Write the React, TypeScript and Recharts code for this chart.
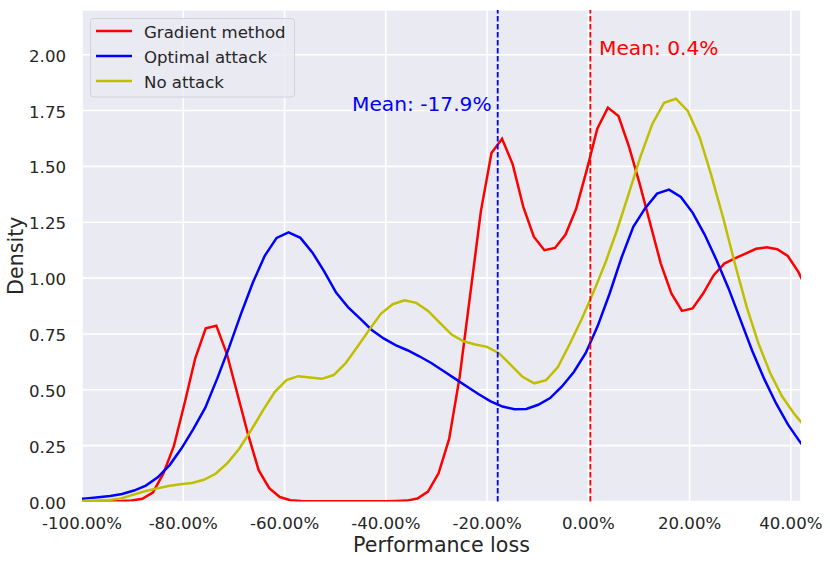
import React from "react";
import {
  LineChart, Line, XAxis, YAxis, CartesianGrid, ReferenceLine, ReferenceDot, Legend,
} from "recharts";

const FONT = "'DejaVu Sans', sans-serif";
const INK = "#262626";

// KDE curves (x in %, y = density)
const gradientX = [
  -100.64, -98.55, -96.46, -94.37, -92.28, -90.19, -88.1, -86.01, -83.92, -81.83,
  -79.74, -77.65, -75.56, -73.47, -71.38, -69.29, -67.2, -65.11, -63.02, -60.93,
  -58.84, -56.75, -54.66, -52.57, -50.48, -48.39, -46.3, -44.21, -42.12, -40.03,
  -37.94, -35.85, -33.76, -31.67, -29.58, -27.49, -25.4, -23.31, -21.22, -19.13,
  -17.04, -14.95, -12.86, -10.77, -8.68, -6.59, -4.5, -2.41, -0.32, 1.77,
  3.86, 5.95, 8.04, 10.13, 12.22, 14.31, 16.4, 18.49, 20.58, 22.67,
  24.76, 26.85, 28.94, 31.03, 33.12, 35.21, 37.3, 39.39, 41.48, 43.57,
];
const gradientY = [
  0, 0, 0.001, 0.001, 0.002, 0.005, 0.012, 0.04, 0.126, 0.25,
  0.44, 0.64, 0.775, 0.787, 0.66, 0.48, 0.3, 0.14, 0.06, 0.02,
  0.006, 0.002, 0.001, 0.001, 0.001, 0.001, 0.001, 0.001, 0.001, 0.001,
  0.002, 0.004, 0.013, 0.044, 0.126, 0.28, 0.56, 0.93, 1.3, 1.56,
  1.624, 1.51, 1.32, 1.185, 1.125, 1.135, 1.195, 1.31, 1.483, 1.669,
  1.763, 1.725, 1.587, 1.423, 1.244, 1.065, 0.931, 0.853, 0.864, 0.931,
  1.013, 1.065, 1.088, 1.11, 1.131, 1.138, 1.129, 1.099, 1.028, 0.93,
];

const optimalX = [
  -101.47, -99.13, -96.78, -94.43, -92.08, -89.73, -87.39, -85.04, -82.69, -80.34,
  -77.99, -75.65, -73.3, -70.95, -68.6, -66.25, -63.91, -61.56, -59.21, -56.86,
  -54.51, -52.17, -49.82, -47.47, -45.12, -42.77, -40.43, -38.08, -35.73, -33.38,
  -31.03, -28.69, -26.34, -23.99, -21.64, -19.29, -16.95, -14.6, -12.25, -9.9,
  -7.55, -5.21, -2.86, -0.51, 1.84, 4.19, 6.53, 8.88, 11.23, 13.58,
  15.93, 18.27, 20.62, 22.97, 25.32, 27.67, 30.01, 32.36, 34.71, 37.06,
  39.41, 41.75, 44.1,
];
const optimalY = [
  0.01, 0.014, 0.019, 0.025, 0.034, 0.049, 0.071, 0.108, 0.163, 0.238,
  0.325, 0.42, 0.55, 0.69, 0.84, 0.98, 1.1, 1.18, 1.205, 1.18,
  1.115, 1.03, 0.935, 0.87, 0.82, 0.768, 0.73, 0.7, 0.677, 0.65,
  0.62, 0.585, 0.55, 0.515, 0.48, 0.448, 0.425, 0.413, 0.414, 0.433,
  0.463, 0.515, 0.58, 0.665, 0.785, 0.93, 1.09, 1.23, 1.313, 1.378,
  1.396, 1.363, 1.292, 1.195, 1.08, 0.955, 0.815, 0.675, 0.55, 0.44,
  0.345, 0.268, 0.2,
];

const noAttackX = [
  -101.58, -99.25, -96.92, -94.59, -92.26, -89.93, -87.6, -85.26, -82.93, -80.6,
  -78.27, -75.94, -73.61, -71.28, -68.95, -66.62, -64.29, -61.95, -59.62, -57.29,
  -54.96, -52.63, -50.3, -47.97, -45.64, -43.31, -40.98, -38.64, -36.31, -33.98,
  -31.65, -29.32, -26.99, -24.66, -22.33, -20.0, -17.67, -15.33, -13.0, -10.67,
  -8.34, -6.01, -3.68, -1.35, 0.98, 3.31, 5.64, 7.98, 10.31, 12.64,
  14.97, 17.3, 19.63, 21.96, 24.29, 26.62, 28.96, 31.29, 33.62, 35.95,
  38.28, 40.61, 42.94,
];
const noAttackY = [
  0.001, 0.002, 0.004, 0.007, 0.014, 0.03, 0.046, 0.058, 0.069, 0.077,
  0.083, 0.097, 0.124, 0.172, 0.236, 0.318, 0.407, 0.49, 0.543, 0.561,
  0.555, 0.549, 0.566, 0.618, 0.692, 0.767, 0.84, 0.883, 0.901, 0.889,
  0.853, 0.8, 0.747, 0.717, 0.703, 0.692, 0.664, 0.612, 0.558, 0.529,
  0.543, 0.602, 0.705, 0.815, 0.935, 1.065, 1.213, 1.378, 1.545, 1.69,
  1.785, 1.803, 1.748, 1.632, 1.46, 1.27, 1.063, 0.87, 0.706, 0.573,
  0.47, 0.394, 0.33,
];

const xTicks = [-100, -80, -60, -40, -20, 0, 20, 40];
const yTicks = [0, 0.25, 0.5, 0.75, 1, 1.25, 1.5, 1.75, 2];

const meanOptimal = -17.9;
const meanGradient = 0.4;

const series = [
  { name: "Gradient method", color: "#ff0000", xs: gradientX, ys: gradientY },
  { name: "Optimal attack", color: "#0000ff", xs: optimalX, ys: optimalY },
  { name: "No attack", color: "#bfbf00", xs: noAttackX, ys: noAttackY },
];

function toPoints(xs: number[], ys: number[]) {
  return xs.map((x, i) => ({ x, y: ys[i] }));
}

function LegendBox() {
  return (
    <svg width={205} height={80} style={{ display: "block" }}>
      <rect x={0.5} y={0.5} width={204} height={78.5} rx={3} fill="#EAEAF2" fillOpacity={0.8} stroke="#d2d2d8" />
      {series.map((s, i) => {
        const cy = 13 + i * 25;
        return (
          <g key={s.name}>
            <line x1={6} x2={42} y1={cy} y2={cy} stroke={s.color} strokeWidth={2.5} />
            <text x={54} y={cy + 6.5} fontSize={16.6} fill={INK} fontFamily={FONT}>{s.name}</text>
          </g>
        );
      })}
    </svg>
  );
}

export default function App() {
  return (
    <div style={{ position: "absolute", left: 0, top: 0, width: 830, height: 563, background: "#fff", fontFamily: FONT }}>
      <LineChart width={830} height={563} margin={{ top: 10, right: 29, bottom: 0, left: 0 }}>
        <CartesianGrid fill="#EAEAF2" stroke="#ffffff" strokeWidth={1.6} />
        <XAxis
          type="number"
          dataKey="x"
          domain={[-100, 42]}
          allowDataOverflow
          ticks={xTicks}
          interval={0}
          height={61.5}
          axisLine={false}
          tickLine={false}
          tickSize={0}
          tickMargin={0}
          tick={(p: any) => (
            <text x={p.x} y={p.y + 27.5} textAnchor="middle" fontSize={16.6} fill={INK} fontFamily={FONT}>
              {`${p.payload.value.toFixed(2)}%`}
            </text>
          )}
          label={(p: any) => (
            <text x={p.viewBox.x + p.viewBox.width / 2} y={p.viewBox.y + 50} textAnchor="middle" fontSize={20.6} fill={INK} fontFamily={FONT}>
              Performance loss
            </text>
          )}
        />
        <YAxis
          type="number"
          domain={[0, 2.2]}
          allowDataOverflow
          ticks={yTicks}
          interval={0}
          width={82}
          axisLine={false}
          tickLine={false}
          tickSize={0}
          tickMargin={16}
          tick={(p: any) => (
            <text x={p.x} y={p.y + 7} textAnchor="end" fontSize={16.6} fill={INK} fontFamily={FONT}>
              {p.payload.value.toFixed(2)}
            </text>
          )}
          label={(p: any) => {
            const cx = 22.5;
            const cy = p.viewBox.y + p.viewBox.height / 2;
            return (
              <text x={cx} y={cy} transform={`rotate(-90, ${cx}, ${cy})`} textAnchor="middle" fontSize={20.6} fill={INK} fontFamily={FONT}>
                Density
              </text>
            );
          }}
        />
        {series.map((s) => (
          <Line
            key={s.name}
            data={toPoints(s.xs, s.ys)}
            dataKey="y"
            name={s.name}
            type="linear"
            stroke={s.color}
            strokeWidth={2.5}
            dot={false}
            activeDot={false}
            isAnimationActive={false}
          />
        ))}
        <ReferenceLine x={meanOptimal} stroke="#0000ff" strokeWidth={1.8} strokeDasharray="5.5 2.5" />
        <ReferenceLine x={meanGradient} stroke="#ff0000" strokeWidth={1.8} strokeDasharray="5.5 2.5" />
        <ReferenceDot
          x={-19.1}
          y={1.75}
          r={0}
          shape={(p: any) => (
            <text x={p.cx} y={p.cy} textAnchor="end" fontSize={20.2} fill="#0000ff" fontFamily={FONT}>
              {`Mean: ${meanOptimal}%`}
            </text>
          )}
        />
        <ReferenceDot
          x={2.1}
          y={2.0}
          r={0}
          shape={(p: any) => (
            <text x={p.cx} y={p.cy} textAnchor="start" fontSize={20.2} fill="#ff0000" fontFamily={FONT}>
              {`Mean: ${meanGradient}%`}
            </text>
          )}
        />
        <Legend
          layout="vertical"
          align="center"
          verticalAlign="middle"
          wrapperStyle={{ left: 90, top: 18, width: 205, height: 80 }}
          content={() => <LegendBox />}
        />
      </LineChart>
    </div>
  );
}
